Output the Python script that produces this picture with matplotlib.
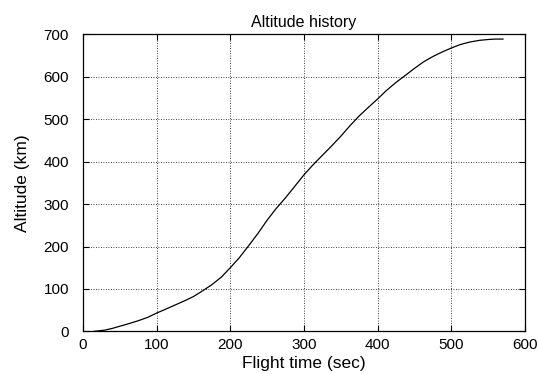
import numpy as np
import matplotlib
matplotlib.use('Agg')
import matplotlib.pyplot as plt

plt.rcParams['font.family'] = ['Liberation Sans', 'DejaVu Sans']

# Flight time (sec) and altitude (km)
flight_time = [15, 20, 30, 40, 50, 62, 75, 88, 100, 112, 125, 138, 150, 162,
               175, 188, 200, 212, 225, 238, 250, 262, 275, 288, 300, 312,
               325, 338, 350, 362, 375, 388, 400, 412, 425, 438, 450, 462,
               475, 488, 500, 512, 525, 538, 550, 560, 570]
altitude = [0, 1, 3, 7, 12, 18, 25, 33, 43, 52, 62, 72, 82, 95,
            110, 128, 150, 173, 202, 232, 262, 289, 315, 343, 369, 392,
            415, 438, 460, 484, 508, 529, 548, 568, 587, 604, 620, 635,
            648, 659, 668, 676, 682, 686, 688, 689, 689]

x_ticks = [0, 100, 200, 300, 400, 500, 600]
y_ticks = [0, 100, 200, 300, 400, 500, 600, 700]

fig = plt.figure(figsize=(5.38, 3.74), dpi=100)
ax = fig.add_axes([0.154, 0.114, 0.822, 0.794])

ax.plot(flight_time, altitude, color='black', linewidth=0.9)

ax.set_xlim(0, 600)
ax.set_ylim(0, 700)
ax.set_xticks(x_ticks)
ax.set_yticks(y_ticks)
ax.grid(True, color='black', linestyle=(0, (1, 2)), linewidth=0.6)
ax.tick_params(direction='in', top=True, right=True, length=4, labelsize=11)
ax.tick_params(axis='y', pad=10)
ax.tick_params(axis='x', pad=5)
for s in ax.spines.values():
    s.set_linewidth(0.9)

ax.set_title('Altitude history', fontsize=11.5, pad=5)
ax.set_xlabel('Flight time (sec)', fontsize=12.5, labelpad=3)
ax.set_ylabel('Altitude (km)', fontsize=12.5, labelpad=10)

plt.savefig('out.png', dpi=100)
plt.close()
